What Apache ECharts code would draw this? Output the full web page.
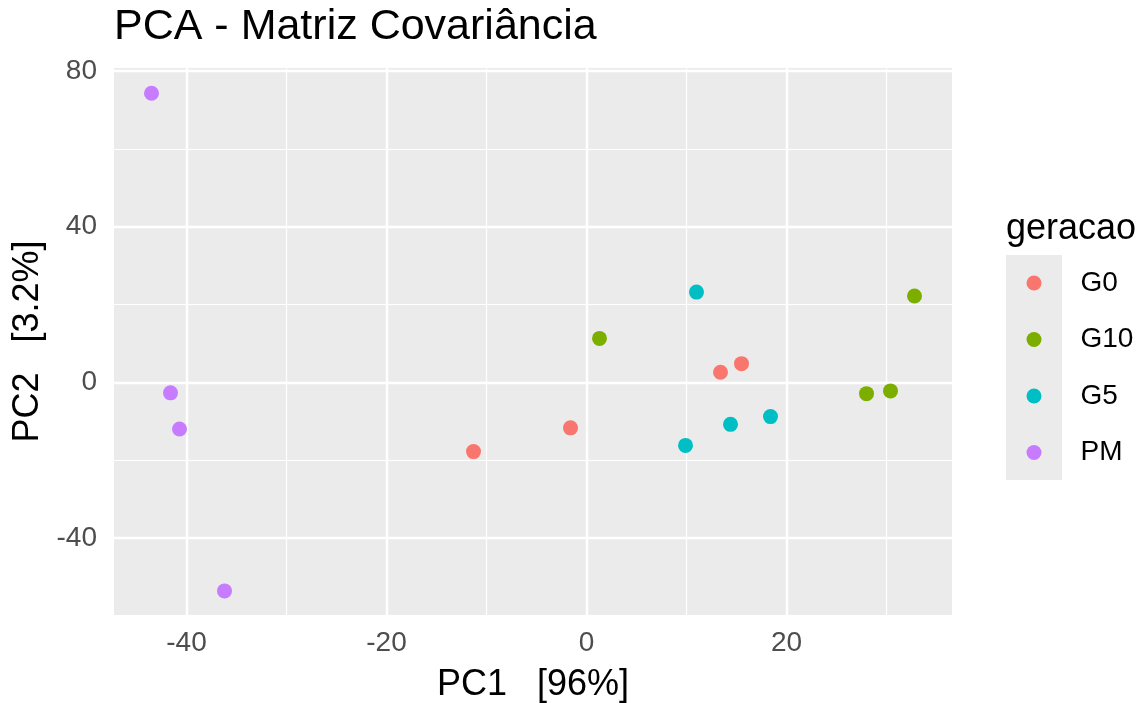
<!DOCTYPE html>
<html>
<head>
<meta charset="utf-8">
<script src="https://cdn.jsdelivr.net/npm/echarts@6/dist/echarts.min.js"></script>
<style>
  html, body { margin: 0; padding: 0; background: #ffffff; }
  #chart { width: 1147px; height: 703px; }
</style>
</head>
<body>
<div id="chart"></div>
<script>
// Group names (legend order)
const groups = ['G0', 'G10', 'G5', 'PM'];
const groupColors = ['#F8766D', '#7CAE00', '#00BFC4', '#C77CFF'];

// PCA scores: [PC1, PC2] per sample
const scoresG0 = [[-11.3, -17.8], [-1.6, -11.7], [13.4, 2.6], [15.5, 4.8]];
const scoresG10 = [[1.3, 11.3], [32.8, 22.2], [28.0, -2.9], [30.4, -2.2]];
const scoresG5 = [[11.0, 23.2], [18.4, -8.8], [14.4, -10.8], [9.9, -16.2]];
const scoresPM = [[-43.5, 74.3], [-41.6, -2.7], [-40.7, -12.0], [-36.2, -53.6]];

// Axis breaks
const xMajor = [-40, -20, 0, 20];
const xMinor = [-30, -10, 10, 30];
const yMajor = [-40, 0, 40, 80];
const yMinor = [-20, 20, 60];

const FONT = '"Liberation Sans", Arial, sans-serif';
const seriesData = [scoresG0, scoresG10, scoresG5, scoresPM];

// White panel grid lines drawn as marker lines under the points
const gridLines = []
  .concat(xMinor.map(v => ({ xAxis: v, lineStyle: { width: 1.2 } })))
  .concat(yMinor.map(v => ({ yAxis: v, lineStyle: { width: 1.2 } })))
  .concat(xMajor.map(v => ({ xAxis: v, lineStyle: { width: 2.4 } })))
  .concat(yMajor.map(v => ({ yAxis: v, lineStyle: { width: 2.4 } })));

const series = groups.map((g, i) => ({
  name: g,
  type: 'scatter',
  data: seriesData[i],
  symbol: 'circle',
  symbolSize: 15,
  itemStyle: { color: groupColors[i], opacity: 1 },
  z: 3
}));

series[0].markLine = {
  silent: true,
  z: 1,
  symbol: ['none', 'none'],
  label: { show: false },
  lineStyle: { color: '#ffffff', type: 'solid' },
  emphasis: { disabled: true },
  animation: false,
  data: gridLines
};

const chart = echarts.init(document.getElementById('chart'), null, { renderer: 'canvas' });

chart.setOption({
  animation: false,
  backgroundColor: '#ffffff',
  textStyle: { fontFamily: FONT },
  title: [
    {
      text: 'PCA - Matriz Covariância',
      left: 114,
      top: 6,
      padding: 0,
      textStyle: { fontFamily: FONT, fontSize: 43, fontWeight: 'normal', color: '#000000' }
    },
    {
      text: 'geracao',
      left: 1006,
      top: 211,
      padding: 0,
      textStyle: { fontFamily: FONT, fontSize: 36, fontWeight: 'normal', color: '#000000' }
    }
  ],
  graphic: [
    {
      type: 'rect',
      left: 1006,
      top: 255,
      shape: { width: 56, height: 225 },
      style: { fill: '#EBEBEB' },
      z: -1,
      silent: true
    }
  ],
  legend: {
    data: groups,
    orient: 'vertical',
    left: 1026.5,
    top: 269,
    padding: 0,
    icon: 'circle',
    itemWidth: 15,
    itemHeight: 15,
    itemGap: 28.5,
    selectedMode: false,
    textStyle: {
      fontFamily: FONT,
      fontSize: 28,
      lineHeight: 28,
      color: '#000000',
      padding: [0, 0, 0, 34]
    }
  },
  grid: {
    left: 114,
    top: 68,
    right: 195,
    bottom: 88,
    show: true,
    backgroundColor: '#EBEBEB',
    borderWidth: 0,
    containLabel: false,
    outerBoundsMode: 'none'
  },
  xAxis: {
    type: 'value',
    min: -47.25,
    max: 36.55,
    name: 'PC1   [96%]',
    nameLocation: 'middle',
    nameGap: 52,
    nameTextStyle: { fontFamily: FONT, fontSize: 36, color: '#000000' },
    axisLine: { show: false },
    axisTick: {
      show: true,
      customValues: xMajor,
      length: 7,
      lineStyle: { color: '#333333', width: 2 }
    },
    axisLabel: {
      customValues: xMajor,
      margin: 14,
      fontFamily: FONT,
      fontSize: 28,
      color: '#4D4D4D'
    },
    splitLine: { show: false },
    minorSplitLine: { show: false }
  },
  yAxis: {
    type: 'value',
    min: -59.8,
    max: 80.8,
    name: 'PC2   [3.2%]',
    nameLocation: 'middle',
    nameGap: 64,
    nameRotate: 90,
    nameTextStyle: { fontFamily: FONT, fontSize: 36, color: '#000000' },
    axisLine: { show: false },
    axisTick: {
      show: true,
      customValues: yMajor,
      length: 7,
      lineStyle: { color: '#333333', width: 2 }
    },
    axisLabel: {
      customValues: yMajor,
      margin: 17,
      fontFamily: FONT,
      fontSize: 28,
      color: '#4D4D4D'
    },
    splitLine: { show: false },
    minorSplitLine: { show: false }
  },
  series: series
});
</script>
</body>
</html>
